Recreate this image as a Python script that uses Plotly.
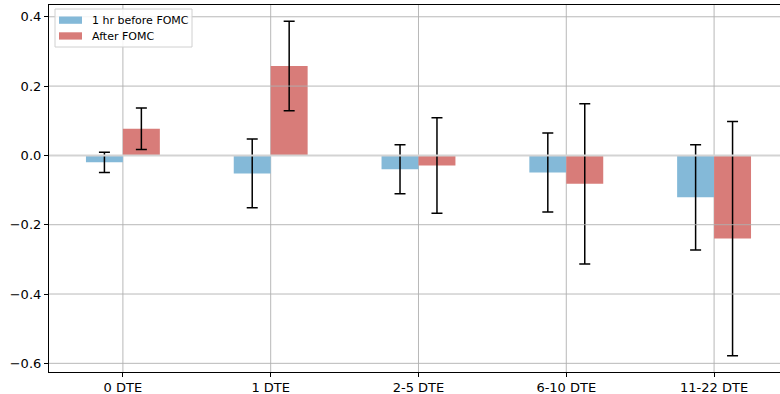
import plotly.graph_objects as go

categories = ["0 DTE", "1 DTE", "2-5 DTE", "6-10 DTE", "11-22 DTE"]
series_names = ["1 hr before FOMC", "After FOMC"]
before_vals = [-0.020, -0.052, -0.040, -0.049, -0.121]
before_err = [0.029, 0.099, 0.071, 0.114, 0.152]
after_vals = [0.077, 0.258, -0.029, -0.082, -0.240]
after_err = [0.060, 0.129, 0.138, 0.231, 0.338]
ytick_vals = [0.4, 0.2, 0.0, -0.2, -0.4, -0.6]
ytick_text = ["0.4", "0.2", "0.0", "\u22120.2", "\u22120.4", "\u22120.6"]

BLUE = "#84b9d8"
RED = "#d87c79"
GRID = "#b0b0b0"
FONT = "DejaVu Sans"
colors = [BLUE, RED]

W, H = 780, 394
ML, MR, MT, MB = 49, 0, 5, 22
PW, PH = W - ML - MR, H - MT - MB


def px(x):
    return (x - ML) / PW


def py(y):
    return (H - MB - y) / PH


xs = list(range(len(categories)))

fig = go.Figure()
fig.add_trace(go.Bar(
    x=xs, y=before_vals, name=series_names[0],
    width=0.25, offset=-0.25, marker=dict(color=BLUE, line=dict(width=0)),
    error_y=dict(type="data", array=before_err, visible=True,
                 color="black", thickness=1.5, width=5.5),
))
fig.add_trace(go.Bar(
    x=xs, y=after_vals, name=series_names[1],
    width=0.25, offset=0.0, marker=dict(color=RED, line=dict(width=0)),
    error_y=dict(type="data", array=after_err, visible=True,
                 color="black", thickness=1.5, width=5.5),
))

shapes = []
for v in ytick_vals:
    shapes.append(dict(type="line", xref="paper", x0=0, x1=1, yref="y", y0=v, y1=v,
                       line=dict(color="#d3d3d3" if v == 0 else GRID,
                                 width=2 if v == 0 else 0.9),
                       layer="above"))
for x in xs:
    shapes.append(dict(type="line", xref="x", x0=x, x1=x, yref="paper", y0=0, y1=1,
                       line=dict(color=GRID, width=0.9), layer="below"))

# legend box (matplotlib-style)
shapes.append(dict(type="rect", xref="paper", yref="paper",
                   x0=px(55), x1=px(192), y0=py(47), y1=py(9),
                   fillcolor="rgba(255,255,255,0.85)",
                   line=dict(color="#d0d0d0", width=1), layer="above"))
annotations = []
row_tops = [16.5, 32.3]
for i, name in enumerate(series_names):
    t = row_tops[i]
    shapes.append(dict(type="rect", xref="paper", yref="paper",
                       x0=px(59), x1=px(82), y0=py(t + 7.3), y1=py(t),
                       fillcolor=colors[i], line=dict(width=0), layer="above"))
    annotations.append(dict(xref="paper", yref="paper", x=px(90), y=py(t + 3.7),
                            xanchor="left", yanchor="middle", text=name, showarrow=False,
                            font=dict(family=FONT, size=11, color="black")))

fig.update_layout(
    width=W, height=H,
    margin=dict(l=ML, r=MR, t=MT, b=MB, autoexpand=False),
    paper_bgcolor="white", plot_bgcolor="white",
    font=dict(family=FONT, size=13, color="black"),
    barmode="overlay",
    shapes=shapes,
    annotations=annotations,
    showlegend=False,
)
fig.update_xaxes(
    range=[-0.5, 4.446], tickmode="array", tickvals=xs, ticktext=categories,
    showgrid=False, zeroline=False, automargin=False,
    showline=True, linecolor="black", linewidth=1.2, mirror=True,
    ticks="outside", ticklen=4, tickcolor="black", tickwidth=1,
    ticklabelstandoff=-1,
    tickfont=dict(family=FONT, size=13, color="black"),
)
fig.update_yaxes(
    range=[-0.625, 0.434], tickmode="array", tickvals=ytick_vals, ticktext=ytick_text,
    showgrid=False, zeroline=False, automargin=False,
    showline=True, linecolor="black", linewidth=1.2, mirror=False,
    ticks="outside", ticklen=4, tickcolor="black", tickwidth=1,
    tickfont=dict(family=FONT, size=13, color="black"),
)

fig.write_html("out.html", config={"displayModeBar": False},
               post_script="document.body.style.margin='0';document.body.style.overflow='hidden';")
